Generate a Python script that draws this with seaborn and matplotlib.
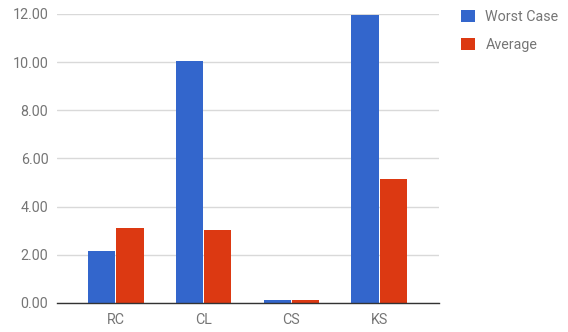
import matplotlib
matplotlib.use("Agg")
import matplotlib.pyplot as plt
import seaborn as sns
import pandas as pd
from matplotlib.patches import Patch

categories = ["RC", "CL", "CS", "KS"]
worst_case = [2.14, 10.06, 0.12, 11.95]
average = [3.11, 3.02, 0.12, 5.13]
series_names = ["Worst Case", "Average"]
colors = ["#3366CC", "#DC3912"]
yticks = [0, 2, 4, 6, 8, 10, 12]

df = pd.DataFrame({
    "cat": categories * 2,
    "value": worst_case + average,
    "series": [series_names[0]] * 4 + [series_names[1]] * 4,
})

sns.set_theme(style="white")
plt.rcParams["font.family"] = ["Roboto", "DejaVu Sans"]

fig = plt.figure(figsize=(5.68, 3.32), dpi=100)
ax = fig.add_axes([0.1, 0.088, 0.673, 0.87])

sns.barplot(data=df, x="cat", y="value", hue="series", palette=colors,
            width=0.64, gap=0.02, ax=ax, legend=False, saturation=1,
            edgecolor="none", linewidth=0)

ax.set_xlim(-0.67, 3.68)
ax.set_ylim(0, 12)
ax.set_yticks(yticks)
ax.set_yticklabels([f"{v:.2f}" for v in yticks])
ax.yaxis.grid(True, color="#d9d9d9", linewidth=1)
ax.set_axisbelow(True)
for s in ["top", "right", "left"]:
    ax.spines[s].set_visible(False)
ax.spines["bottom"].set_color("#333333")
ax.spines["bottom"].set_linewidth(1)
ax.set_xlabel("")
ax.set_ylabel("")
ax.tick_params(axis="both", length=0, labelsize=10.3, labelcolor="#757575")
ax.tick_params(axis="y", pad=6)
ax.tick_params(axis="x", pad=7)

handles = [Patch(facecolor=c, edgecolor="none") for c in colors]
fig.legend(handles, series_names, loc="upper left", bbox_to_anchor=(0.789, 1.01),
           frameon=False, fontsize=10.3, labelcolor="#757575",
           handlelength=0.95, handleheight=0.95, handletextpad=0.75,
           labelspacing=1.0)

fig.savefig("out.png", dpi=100)
